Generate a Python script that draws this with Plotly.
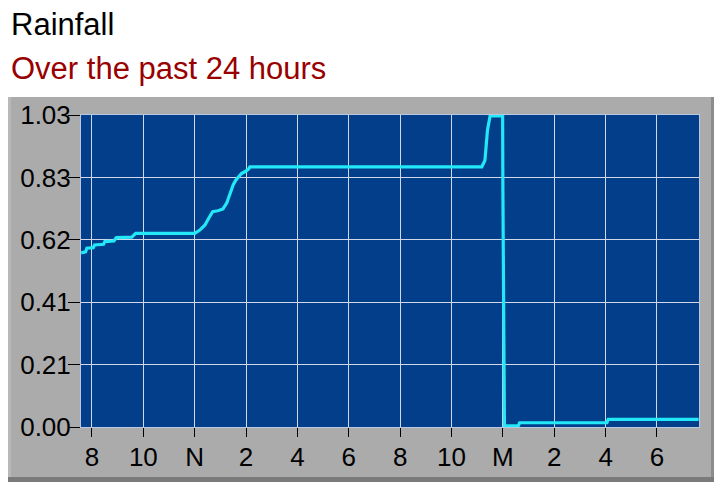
"""Rainfall - past 24 hours"""
import plotly.graph_objects as go

# hours since the previous midnight (12 = noon, 24 = midnight)
hours = [7.58, 7.75, 7.8, 8.05, 8.1, 8.45, 8.5, 8.85, 8.95, 9.55, 9.7,
         12.0, 12.2, 12.4, 12.55, 12.7, 12.9, 13.1, 13.25, 13.37, 13.5, 13.6,
         13.82, 14.0, 14.1, 14.15, 23.18, 23.3, 23.4, 23.5, 23.99, 24.0,
         24.04, 24.06, 24.6, 24.65, 28.05, 28.1, 31.62]
rain = [0.575, 0.578, 0.59, 0.592, 0.601, 0.603, 0.612, 0.614, 0.625, 0.627, 0.639,
        0.639, 0.650, 0.667, 0.690, 0.711, 0.714, 0.720, 0.740, 0.771, 0.800, 0.815,
        0.837, 0.845, 0.852, 0.859, 0.859, 0.880, 0.980, 1.027, 1.027, 0.780,
        0.270, 0.004, 0.004, 0.014, 0.014, 0.025, 0.025]

x_ticks = [8, 10, 12, 14, 16, 18, 20, 22, 24, 26, 28, 30]
x_labels = ["8", "10", "N", "2", "4", "6", "8", "10", "M", "2", "4", "6"]
y_ticks = [0, 0.206, 0.412, 0.618, 0.824, 1.03]
y_labels = ["0.00", "0.21", "0.41", "0.62", "0.83", "1.03"]

# page has an 8px body margin, so the figure is laid out 8px up/left
OFF = 8
W, H = 722, 483
L, T = 81 - OFF, 115 - OFF
pw, ph = 618, 312
R, B = W - L - pw, H - T - ph


def px(x):
    # reference page x -> paper
    return (x - 81) / pw


def py(y):
    # reference page y -> paper
    return (427 - y) / ph


font = "Liberation Sans, Arial, sans-serif"

fig = go.Figure()
fig.add_trace(go.Scatter(x=hours, y=rain, mode="lines",
                         line=dict(color="#22E8F8", width=3.2), hoverinfo="skip"))

shapes = [
    # grey panel
    dict(type="rect", xref="paper", yref="paper", x0=px(1), x1=px(720), y0=py(480), y1=py(97),
         fillcolor="#ABABAB", line_width=0, layer="below"),
    dict(type="rect", xref="paper", yref="paper", x0=px(8), x1=px(11), y0=py(480), y1=py(97),
         fillcolor="#B8B8B8", line_width=0, layer="below"),
    dict(type="rect", xref="paper", yref="paper", x0=px(711), x1=px(716), y0=py(480), y1=py(97),
         fillcolor="#8C8C8C", line_width=0, layer="below"),
    dict(type="rect", xref="paper", yref="paper", x0=px(716), x1=px(721), y0=py(480), y1=py(97),
         fillcolor="#666666", line_width=0, layer="below"),
    dict(type="rect", xref="paper", yref="paper", x0=px(1), x1=px(721), y0=py(482), y1=py(477),
         fillcolor="#7A7A7A", line_width=0, layer="below"),
    # plot area
    dict(type="rect", xref="paper", yref="paper", x0=0, x1=1, y0=0, y1=1,
         fillcolor="#033E8A", line_width=0, layer="below"),
]

fig.update_layout(
    width=W, height=H,
    margin=dict(l=L, r=R, t=T, b=B, pad=0),
    paper_bgcolor="white",
    plot_bgcolor="#033E8A",
    showlegend=False,
    shapes=shapes,
    font=dict(family=font, color="black"),
    annotations=[
        dict(text="Rainfall", xref="paper", yref="paper", x=px(9), y=py(25),
             xanchor="left", yanchor="middle", showarrow=False,
             font=dict(size=31, color="black", family=font)),
        dict(text="Over the past 24 hours", xref="paper", yref="paper", x=px(9), y=py(68),
             xanchor="left", yanchor="middle", showarrow=False,
             font=dict(size=31, color="#990000", family=font)),
    ],
)
fig.update_xaxes(range=[7.572, 31.636], tickvals=x_ticks, ticktext=x_labels,
                 ticks="outside", ticklen=9, tickcolor="black", tickwidth=1,
                 tickfont=dict(size=26, color="black", family=font), ticklabelstandoff=-2,
                 showgrid=True, gridcolor="#D3D8E6", gridwidth=1, zeroline=False,
                 showline=True, linecolor="#B8C8E4", linewidth=1, mirror=True)
fig.update_yaxes(range=[0, 1.03], tickvals=y_ticks, ticktext=y_labels,
                 ticks="outside", ticklen=12, tickcolor="black", tickwidth=1,
                 tickfont=dict(size=26, color="black", family=font), ticklabelstandoff=-8,
                 showgrid=True, gridcolor="#D3D8E6", gridwidth=1, zeroline=False,
                 showline=True, linecolor="#B8C8E4", linewidth=1, mirror=True)

fig.write_html("out.html")
